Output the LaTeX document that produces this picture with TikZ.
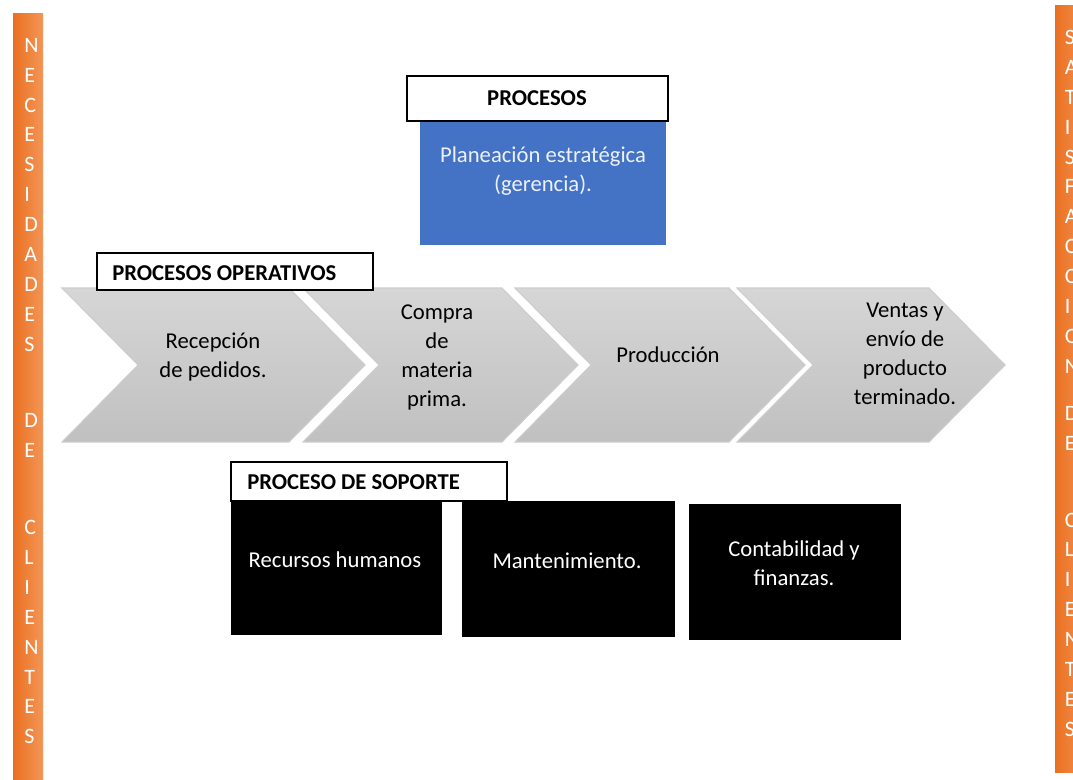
\documentclass[tikz,border=0pt]{standalone}
\usepackage{fontspec}
\setmainfont{Carlito}
\definecolor{azulplan}{RGB}{68,114,196}
\definecolor{textoazul}{RGB}{236,241,250}
\definecolor{naranja}{RGB}{234,112,32}
\definecolor{naranjaclaro}{RGB}{243,150,88}
\definecolor{gristop}{RGB}{214,214,214}
\definecolor{grisbottom}{RGB}{192,192,192}
\definecolor{grisborde}{RGB}{205,205,205}
\begin{document}
\begin{tikzpicture}[x=0.75pt,y=-0.75pt,
    chevron/.style={draw=grisborde, line width=0.8pt, top color=gristop, bottom color=grisbottom},
    etiqueta/.style={draw=black, line width=1pt, fill=white},
    barra/.style={left color=naranja, right color=naranjaclaro},
    texto/.style={font=\fontsize{17}{21.75}\selectfont, align=center, inner sep=0pt},
    titulo/.style={font=\bfseries\fontsize{17}{20}\selectfont, inner sep=0pt},
    letras/.style={font=\fontsize{16.5}{22.4}\selectfont, text=white, align=left, inner sep=0pt, anchor=north west}]
    \useasboundingbox (0,0) rectangle (1073,779);

    % Drawing bar of necesidades
    \fill [barra] (13,13) rectangle (43,779);%
    \node [letras] (necesidades) at (24,38) {N\\E\\C\\E\\S\\I\\D\\A\\D\\E\\S\\[35.3pt]D\\E\\[35.3pt]C\\L\\I\\E\\N\\T\\E\\S};%

    % Drawing bar of satisfaccion
    \fill [barra] (1055,5) rectangle (1090,772);%
    \node [letras] (satisfaccion) at (1064.5,30) {S\\A\\T\\I\\S\\F\\A\\C\\C\\I\\O\\N\\[13pt]D\\E\\[35.3pt]C\\L\\I\\E\\N\\T\\E\\S};%

    % Drawing box of planeacion
    \fill [azulplan] (420,121) rectangle (666,245);%
    \node [texto, text=textoazul] (planeacion) at (543,171.5) {Planeación estratégica\\(gerencia).};%
    \draw [etiqueta] (407,76) rectangle (668,121);%
    \node [titulo] (procesos) at (537,98) {PROCESOS};%

    % Drawing chevron Recepcion
    \draw [chevron] (62,288) -- (289,288) -- (365,365) -- (289,442) -- (62,442) -- (138,365) -- cycle;%
    \node [texto] (recepcion) at (213,357) {Recepción\\de pedidos.};%

    % Drawing chevron Compra
    \draw [chevron] (303,288) -- (502,288) -- (578,365) -- (502,442) -- (303,442) -- (379,365) -- cycle;%
    \node [texto] (compra) at (437,357) {Compra\\de\\materia\\prima.};%

    % Drawing chevron Produccion
    \draw [chevron] (515,288) -- (729,288) -- (805,365) -- (729,442) -- (515,442) -- (591,365) -- cycle;%
    \node [texto] (produccion) at (668,355) {Producción};%

    % Drawing chevron Ventas
    \draw [chevron] (737,288) -- (929,288) -- (1005,365) -- (929,442) -- (737,442) -- (813,365) -- cycle;%
    \node [texto] (ventas) at (905,353.5) {Ventas y\\envío de\\producto\\terminado.};%

    % Marking label of procesos operativos
    \draw [etiqueta] (97,253) rectangle (373,290);%
    \node [titulo, anchor=west] (operativos) at (112,273) {PROCESOS OPERATIVOS};%

    % Drawing boxes of soporte
    \fill [black] (231,501) rectangle (442,635);%
    \node [texto, text=white] (rrhh) at (335,560) {Recursos humanos};%
    \fill [black] (462,501) rectangle (675,637);%
    \node [texto, text=white] (mantenimiento) at (567,561) {Mantenimiento.};%
    \fill [black] (689,504) rectangle (901,640);%
    \node [texto, text=white] (contabilidad) at (794,563.5) {Contabilidad y\\finanzas.};%

    % Marking label of proceso de soporte
    \draw [etiqueta] (231,462) rectangle (507,501);%
    \node [titulo, anchor=west] (soporte) at (247,482) {PROCESO DE SOPORTE};%
\end{tikzpicture}
\end{document}
